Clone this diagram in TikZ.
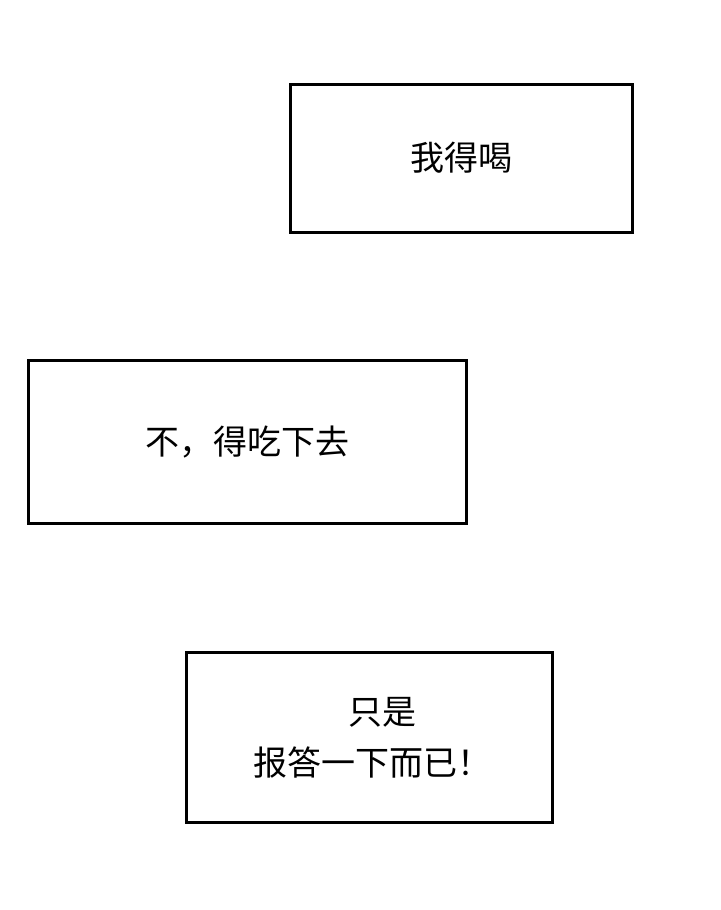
\documentclass[tikz,border=0pt]{standalone}
\usepackage{fontspec}
\newfontfamily\cjk{Noto Sans CJK SC}
\begin{document}
\begin{tikzpicture}[x=1pt,y=-1pt,
  box/.style={draw=black,line width=3pt,fill=white},
  txt/.style={font=\cjk\fontsize{34}{51}\selectfont,align=center,inner sep=0pt}]
\useasboundingbox[fill=white] (0,0) rectangle (720,910);
\draw[box] (290,84) rectangle (632,232);
\node[txt] (t1) at (461,158) {我得喝};
\draw[box] (28,360) rectangle (466,523);
\node[txt] (t2) at (247,442) {不，得吃下去};
\draw[box] (186,652) rectangle (552,822);
\node[txt] (t3) at (372,738) {\hspace*{20pt}只是\\报答一下而已！};
\end{tikzpicture}
\end{document}
